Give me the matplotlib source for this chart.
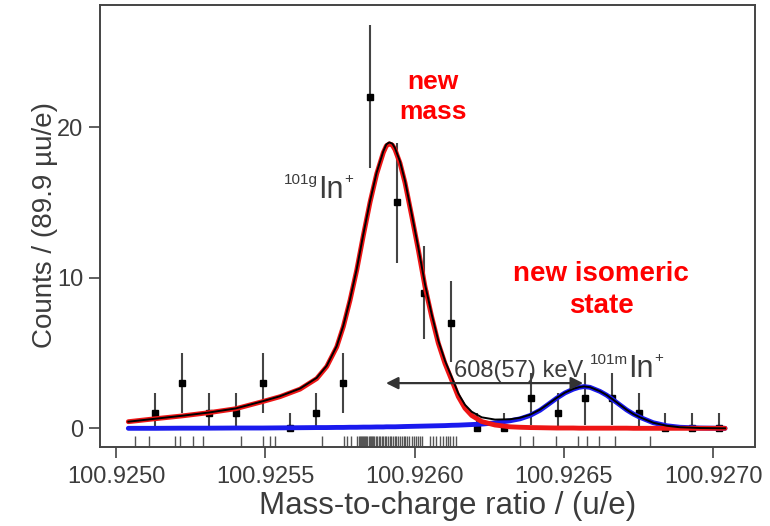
import numpy as np
import matplotlib
matplotlib.use("Agg")
import matplotlib.pyplot as plt
from matplotlib.ticker import FormatStrFormatter

plt.rcParams["font.family"] = ["Liberation Sans", "DejaVu Sans"]

# reference mass, offsets below are in micro-u/e
MASS_REF = 100.925

# binned counts (89.9 micro-u/e bins)
bin_offsets = [131.6, 221.5, 311.4, 401.3, 491.2, 581.1, 671.0, 760.9, 850.8, 940.7, 1030.6,
               1120.5, 1210.4, 1300.3, 1390.2, 1480.1, 1570.0, 1659.9, 1749.8, 1839.7, 1929.6, 2019.5]
counts = [1, 3, 1, 1, 3, 0, 1, 3, 22, 15, 9, 7, 0, 0, 2, 1, 2, 2, 1, 0, 0, 0]
err_low = [1, 2, 1, 1, 2, 0, 1, 2, 4.7, 4.0, 3.1, 2.6, 0, 0, 1.8, 1, 1.8, 1.8, 1, 0, 0, 0]
err_high = [1.35, 2.0, 1.35, 1.35, 2.0, 1.0, 1.35, 2.0, 4.75, 3.95, 3.1, 2.8, 1.0, 1.0,
            1.65, 1.35, 1.65, 1.65, 1.35, 1.0, 1.0, 1.0]

# unbinned events (rug)
event_offsets = [63.6, 110.5, 197.6, 214.3, 257.8, 291.3, 418.6, 492.2, 515.7, 532.4, 689.8,
                 763.4, 773.5, 786.9,
                 808, 812, 816, 820, 824, 828, 831, 835, 838, 842, 846, 849, 853, 857, 861, 865,
                 869, 874, 879, 884, 889, 893,
                 899, 905, 911, 916, 922, 928, 934, 939, 945, 951, 957, 963, 969, 975, 981,
                 990, 997, 1003, 1010, 1017, 1024, 1051, 1062, 1072,
                 1085, 1095, 1105, 1112, 1119, 1128, 1137,
                 1352.8, 1395.3, 1473.3, 1545.3, 1577.1, 1618.3, 1672.5, 1788.0]

# fit components
curve_offsets = [41.2, 132.9, 220.0, 311.4, 400.8, 489.9, 549.1, 616.1, 672.0, 705.5,
                 739.0, 761.1, 783.6, 806.0, 828.1, 850.5, 872.9, 895.0, 905.1, 915.1,
                 925.2, 934.2, 951.0, 967.7, 990.1, 1012.2, 1034.7, 1057.1, 1079.2, 1101.6,
                 1124.1, 1146.2, 1168.6, 1191.0, 1224.5, 1269.0, 1319.3, 1352.8, 1386.2, 1419.7,
                 1446.5, 1475.6, 1503.4, 1531.2, 1550.3, 1567.0, 1587.1, 1620.6, 1643.0, 1665.2,
                 1687.6, 1710.0, 1732.2, 1754.6, 1799.1, 1844.0, 1888.5, 1955.5, 2039.2]
ground_fit = [0.44, 0.64, 0.82, 1.04, 1.30, 1.77, 2.10, 2.60, 3.30, 4.10,
              5.40, 6.75, 8.50, 10.5, 12.8, 15.0, 16.9, 18.3, 18.75, 18.88,
              18.8, 18.5, 17.6, 16.3, 14.1, 11.85, 9.4, 7.4, 5.65, 4.3,
              3.2, 2.1, 1.33, 0.85, 0.45, 0.22, 0.10, 0.07, 0.05, 0.04,
              0.03, 0.02, 0.02, 0.02, 0.01, 0.01, 0.01, 0.01, 0.01, 0.01,
              0.01, 0.01, 0.0, 0.0, 0.0, 0.0, 0.0, 0.0, 0.0]
isomer_fit = [0.0, 0.0, 0.01, 0.01, 0.02, 0.02, 0.03, 0.04, 0.05, 0.05,
              0.06, 0.06, 0.07, 0.07, 0.08, 0.08, 0.09, 0.09, 0.10, 0.10,
              0.10, 0.10, 0.11, 0.12, 0.13, 0.14, 0.15, 0.16, 0.17, 0.18,
              0.20, 0.21, 0.23, 0.25, 0.28, 0.36, 0.50, 0.63, 0.85, 1.20,
              1.58, 2.00, 2.35, 2.60, 2.72, 2.77, 2.72, 2.45, 2.20, 1.88,
              1.55, 1.22, 0.95, 0.73, 0.37, 0.17, 0.07, 0.02, 0.0]

x_ticks = [100.9250, 100.9255, 100.9260, 100.9265, 100.9270]
y_ticks = [0, 10, 20]

bins = MASS_REF + np.array(bin_offsets) * 1e-6
events = MASS_REF + np.array(event_offsets) * 1e-6
cx = MASS_REF + np.array(curve_offsets) * 1e-6
red = np.array(ground_fit)
blue = np.array(isomer_fit)

fig = plt.figure(figsize=(7.7, 5.26), dpi=100)
ax = fig.add_axes([0.1299, 0.1502, 0.8506, 0.8403])

grey = "#3c3c3c"

ax.errorbar(bins, counts, yerr=[err_low, err_high], fmt="s", color="black",
            ecolor="#444444", elinewidth=1.5, markersize=5, capsize=0, zorder=2)
ax.vlines(events, -1.24, -0.52, color="#555555", linewidth=1.0, zorder=1)

ax.plot(cx, blue, color="#1a1aee", linewidth=3.5, zorder=3, solid_capstyle="round")
ax.plot(cx, red, color="#ee1515", linewidth=3.5, zorder=4, solid_capstyle="round")
ax.plot(cx, red + blue, color="black", linewidth=1.4, zorder=5)

# energy difference arrow
ax.annotate("", xy=(100.926564, 3.0), xytext=(100.925904, 3.0),
            arrowprops=dict(arrowstyle="<|-|>", color="#333333", lw=1.6,
                            mutation_scale=18, shrinkA=0, shrinkB=0), zorder=6)
ax.text(100.926349, 3.4, "608(57) keV", color=grey, fontsize=17,
        ha="center", va="baseline", zorder=6)


def isotope_label(x, y, mass_tag):
    t_in = ax.text(x, y, "In", color=grey, fontsize=22, ha="left", va="baseline", zorder=6)
    ax.annotate(mass_tag, xy=(0, 0.68), xycoords=t_in, ha="right", va="baseline",
                fontsize=11, color=grey, zorder=6)
    ax.annotate("+", xy=(1.03, 0.74), xycoords=t_in, ha="left", va="baseline",
                fontsize=11, color=grey, zorder=6)


isotope_label(100.925676, 15.3, "101g")
isotope_label(100.926714, 3.4, "101m")

ax.text(100.926061, 22.0, "new\nmass", color="red", fontsize=19, fontweight="bold",
        ha="center", va="center", linespacing=1.3)
ax.text(100.926624, 9.2, "new isomeric\nstate", color="red", fontsize=20,
        fontweight="bold", ha="center", va="center", linespacing=1.3)

ax.set_xlim(100.9249464, 100.9271396)
ax.set_ylim(-1.24, 28.1)
ax.set_xticks(x_ticks)
ax.set_yticks(y_ticks)
ax.xaxis.set_major_formatter(FormatStrFormatter("%.4f"))
ax.tick_params(direction="out", length=8, width=1.2, colors="#444444",
               labelsize=17, labelcolor=grey)
ax.tick_params(axis="x", pad=6)
ax.tick_params(axis="y", pad=4)
for s in ax.spines.values():
    s.set_color("#444444")
    s.set_linewidth(1.4)

fig.text(45 / 770, 1 - 225 / 526, "Counts / (89.9 \u00b5u/e)", rotation=90,
         ha="center", va="center", fontsize=20, color=grey)
fig.text(448 / 770, 1 - 506 / 526, "Mass-to-charge ratio / (u/e)",
         ha="center", va="center", fontsize=22.5, color=grey)

fig.savefig("out.png", dpi=100)
